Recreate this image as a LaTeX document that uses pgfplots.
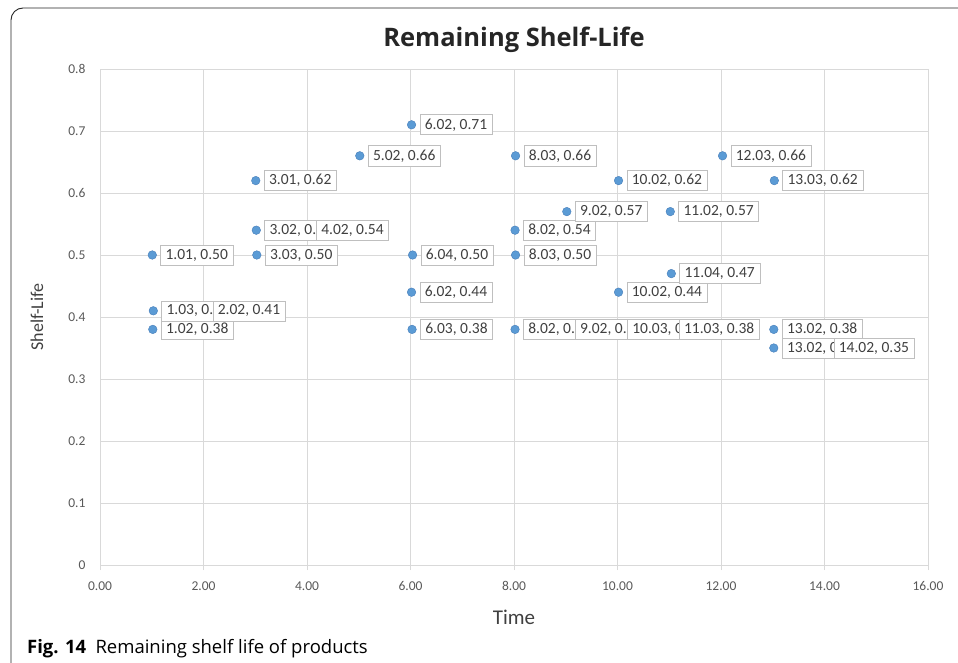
\documentclass[border=0pt]{standalone}
\usepackage{pgfplots}
\pgfplotsset{compat=1.18}
\usepackage{pgfplotstable}
\usepackage{fontspec}
\setmainfont{Carlito}
\newfontfamily\capfont{Open Sans}
\definecolor{ptblue}{RGB}{91,155,213}
\definecolor{ptedge}{RGB}{70,125,185}
\definecolor{gridc}{RGB}{217,217,217}
\definecolor{tickc}{RGB}{89,89,89}
\definecolor{labc}{RGB}{64,64,64}

\pgfplotstableread[col sep=semicolon,row sep=\\]{
x;y;lab\\
1.01;0.50;1.01, 0.50\\
1.02;0.38;1.02, 0.38\\
1.03;0.41;1.03, 0.41\\
2.02;0.41;2.02, 0.41\\
3.01;0.62;3.01, 0.62\\
3.02;0.54;3.02, 0.54\\
3.03;0.50;3.03, 0.50\\
4.02;0.54;4.02, 0.54\\
5.02;0.66;5.02, 0.66\\
6.02;0.71;6.02, 0.71\\
6.02;0.44;6.02, 0.44\\
6.03;0.38;6.03, 0.38\\
6.04;0.50;6.04, 0.50\\
8.02;0.54;8.02, 0.54\\
8.02;0.38;8.02, 0.38\\
8.03;0.66;8.03, 0.66\\
8.03;0.50;8.03, 0.50\\
9.02;0.57;9.02, 0.57\\
9.02;0.38;9.02, 0.38\\
10.02;0.62;10.02, 0.62\\
10.02;0.44;10.02, 0.44\\
10.03;0.38;10.03, 0.38\\
11.02;0.57;11.02, 0.57\\
11.03;0.38;11.03, 0.38\\
11.04;0.47;11.04, 0.47\\
12.03;0.66;12.03, 0.66\\
13.02;0.38;13.02, 0.38\\
13.02;0.35;13.02, 0.35\\
13.03;0.62;13.03, 0.62\\
14.02;0.35;14.02, 0.35\\
}\pts

\begin{document}
\begin{tikzpicture}[x=1pt,y=1pt]
\useasboundingbox (0,0) rectangle (958,662);
\draw[line width=0.9pt, black!85, rounded corners=12pt] (11,-5) |- (965,654);
\begin{axis}[
  at={(100pt,97pt)}, anchor=south west,
  scale only axis, width=828pt, height=496pt,
  xmin=0, xmax=16, ymin=0, ymax=0.8,
  xtick={0,2,4,6,8,10,12,14,16},
  xticklabels={0.00,2.00,4.00,6.00,8.00,10.00,12.00,14.00,16.00},
  ytick={0,0.1,0.2,0.3,0.4,0.5,0.6,0.7,0.8},
  yticklabels={0,0.1,0.2,0.3,0.4,0.5,0.6,0.7,0.8},
  grid=major,
  grid style={gridc, line width=0.8pt},
  axis line style={gridc, line width=0.8pt},
  xtick style={gridc, line width=0.8pt},
  ytick style={draw=none},
  tick align=outside,
  xtick pos=bottom,
  major tick length=5pt,
  ticklabel style={font=\fontsize{13.5}{15}\selectfont, text=tickc},
  yticklabel style={xshift=-6pt},
  xticklabel style={yshift=-8pt},
  clip=false,
]
\addplot[only marks, mark=*, mark size=4.3pt,
  mark options={fill=ptblue, draw=ptedge, line width=0.4pt}]
  table[x=x, y=y] {\pts};
\addplot[draw=none, mark=none,
  nodes near coords,
  point meta=explicit symbolic,
  every node near coord/.style={anchor=west, xshift=8pt,
    draw=gray!50, line width=0.6pt, fill=white,
    inner xsep=5pt, inner ysep=0pt, minimum height=20pt,
    font=\fontsize{15.5}{16}\selectfont, text=labc}]
  table[x=x, y=y, meta=lab] {\pts};
\end{axis}
\node[font=\capfont\fontsize{25.5}{27}\selectfont\bfseries, text=black!85] at (514,622) {Remaining Shelf-Life};
\node[font=\fontsize{21}{23}\selectfont, text=labc] at (514,45) {Time};
\node[font=\fontsize{18}{20}\selectfont, text=labc, rotate=90] at (37,345) {Shelf-Life};
\node[anchor=base west, inner sep=0pt, font=\capfont\fontsize{18.5}{20}\selectfont] at (27,9) {\textbf{Fig. 14}\hspace{0.5em}Remaining shelf life of products};
\end{tikzpicture}
\end{document}
